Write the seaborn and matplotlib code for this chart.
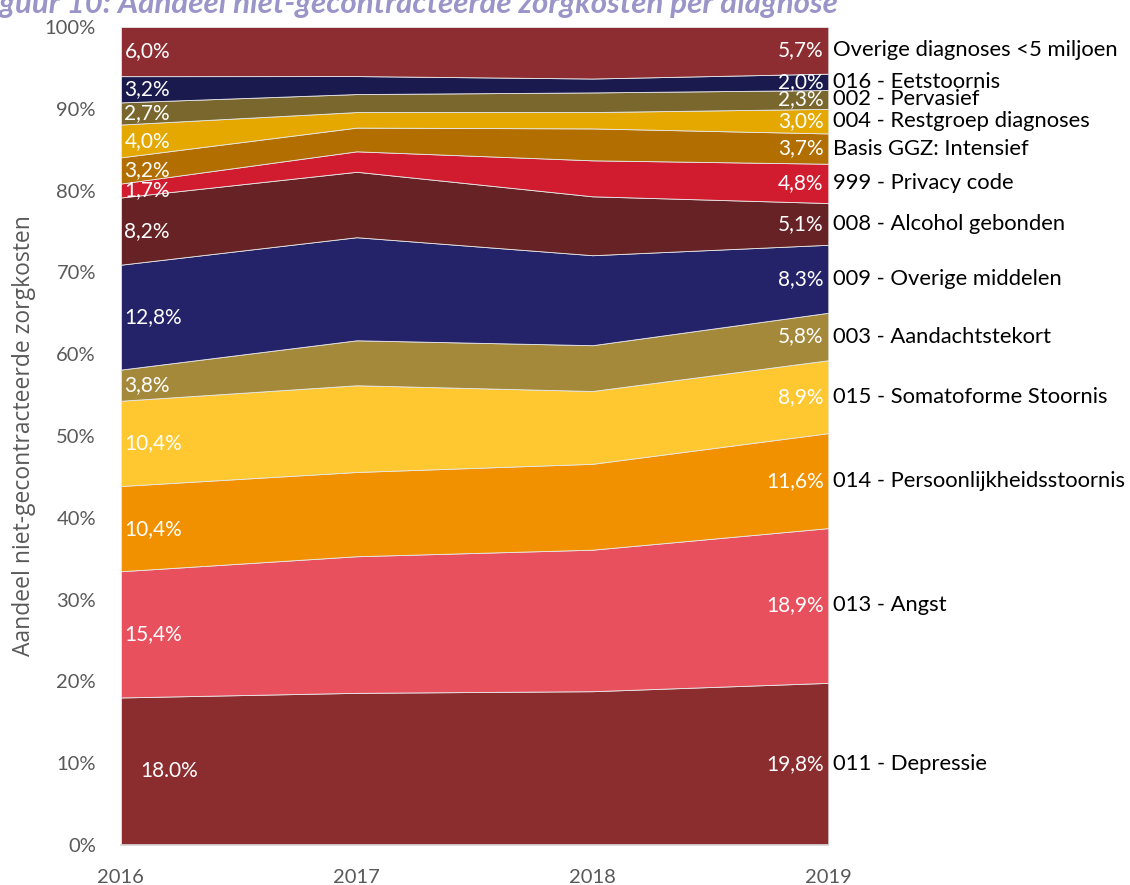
import numpy as np
import matplotlib
matplotlib.use("Agg")
import matplotlib.pyplot as plt
import seaborn as sns

years = [2016, 2017, 2018, 2019]

# diagnoses from bottom to top of the stack
diagnoses = [
    "011 - Depressie",
    "013 - Angst",
    "014 - Persoonlijkheidsstoornis",
    "015 - Somatoforme Stoornis",
    "003 - Aandachtstekort",
    "009 - Overige middelen",
    "008 - Alcohol gebonden",
    "999 - Privacy code",
    "Basis GGZ: Intensief",
    "004 - Restgroep diagnoses",
    "002 - Pervasief",
    "016 - Eetstoornis",
    "Overige diagnoses <5 miljoen",
]

# share (%) per year, same order as diagnoses
depressie = [18.0, 18.6, 18.8, 19.8]
angst = [15.4, 16.7, 17.3, 18.9]
persoonlijkheid = [10.4, 10.3, 10.5, 11.6]
somatoform = [10.4, 10.6, 8.9, 8.9]
aandacht = [3.8, 5.5, 5.6, 5.8]
overige_middelen = [12.8, 12.6, 11.0, 8.3]
alcohol = [8.2, 8.0, 7.2, 5.1]
privacy = [1.7, 2.5, 4.4, 4.8]
basis_ggz = [3.2, 2.9, 3.9, 3.7]
restgroep = [4.0, 1.9, 2.0, 3.0]
pervasief = [2.7, 2.2, 2.4, 2.3]
eetstoornis = [3.2, 2.2, 1.7, 2.0]
overige_klein = [6.0, 6.0, 6.3, 5.7]

colors = [
    "#8B2C2F", "#E8505E", "#F29100", "#FFC730", "#A5893B", "#242268",
    "#662224", "#D01C2E", "#B36E00", "#E5A800", "#7A672E", "#1B1A4E",
    "#8E2D31",
]

values = np.array([
    depressie, angst, persoonlijkheid, somatoform, aandacht,
    overige_middelen, alcohol, privacy, basis_ggz, restgroep,
    pervasief, eetstoornis, overige_klein,
])
# 100% stacked, like the original
shares = values / values.sum(axis=0) * 100


def fmt(v):
    return f"{v:.1f}".replace(".", ",") + "%"


sns.set_theme(style="white")
plt.rcParams["font.family"] = ["Lato", "DejaVu Sans"]

fig = plt.figure(figsize=(11.3, 8.85), dpi=100)
ax = fig.add_axes([0.107, 0.0452, 0.626, 0.9243])

ax.stackplot(years, shares, colors=sns.color_palette(colors),
             edgecolor="#e8e8e8", linewidth=0.6)

ax.set_xlim(2016, 2019)
ax.set_ylim(0, 100)
ax.set_xticks(years)
ax.set_yticks(range(0, 101, 10))
ax.set_yticklabels([f"{t}%" for t in range(0, 101, 10)])
ax.tick_params(axis="both", colors="#595959", labelsize=14.5, length=0)
ax.tick_params(axis="x", pad=17)
ax.tick_params(axis="y", pad=18)
for s in ["top", "right", "left"]:
    ax.spines[s].set_visible(False)
ax.spines["bottom"].set_color("#d9d9d9")
ax.set_ylabel("Aandeel niet-gecontracteerde zorgkosten", color="#595959",
              fontsize=16.5, labelpad=6, family=["Open Sans", "DejaVu Sans"])

bottoms = np.cumsum(shares, axis=0) - shares
centers = bottoms + shares / 2

# left labels (2016)
for i in range(len(diagnoses)):
    txt = fmt(values[i, 0])
    if i == 0:
        txt = txt.replace(",", ".")
    xoff = 0.08 if i == 0 else 0.015
    ax.text(2016 + xoff, centers[i, 0], txt, color="white", fontsize=15,
            ha="left", va="center")

# right labels (2019) and category names
for i in range(len(diagnoses)):
    ax.text(2019 - 0.02, centers[i, -1], fmt(values[i, -1]), color="white",
            fontsize=15, ha="right", va="center")
    ax.text(2019 + 0.022, centers[i, -1], diagnoses[i], color="black",
            fontsize=15.8, ha="left", va="center", clip_on=False)

fig.text(-0.022, 0.996, "Figuur 10: Aandeel niet-gecontracteerde zorgkosten per diagnose",
         color="#9A95C8", fontsize=22.5, fontweight="bold", fontstyle="italic",
         ha="left", va="center")

fig.savefig("out.png", dpi=100)
